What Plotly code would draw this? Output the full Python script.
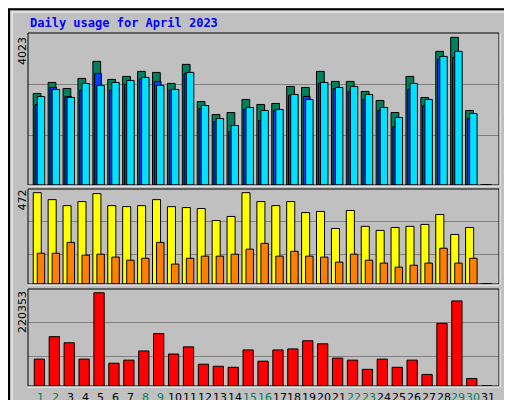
import plotly.graph_objects as go

days = list(range(1, 32))
hits = [2494, 2794, 2630, 2904, 3368, 2876, 2958, 3095, 3067, 2767, 3286, 2275, 1920, 1975, 2330,
        2194, 2221, 2685, 2658, 3095, 2822, 2822, 2549, 2303, 1975, 2958, 2385, 3641, 4023, 2030, 0]
files = [2194, 2658, 2412, 2585, 3040, 2585, 2740, 2885, 2822, 2585, 3040, 2084, 1729, 1456, 2057,
         1757, 2030, 2439, 2412, 2767, 2630, 2549, 2330, 2030, 1593, 2603, 2166, 3422, 3477, 1811, 0]
pages = [2412, 2603, 2385, 2767, 2712, 2794, 2849, 2931, 2712, 2603, 3067, 2166, 1811, 1620, 2112,
         2030, 2057, 2467, 2330, 2794, 2658, 2685, 2467, 2112, 1839, 2767, 2330, 3504, 3641, 1948, 0]
visits = [472, 436, 405, 426, 467, 405, 400, 405, 436, 400, 395, 390, 328, 349, 472,
          426, 405, 426, 369, 375, 287, 380, 298, 277, 292, 298, 308, 359, 256, 292, 0]
sites = [159, 159, 215, 149, 154, 139, 123, 133, 215, 103, 133, 144, 144, 154, 180,
         210, 144, 169, 144, 139, 113, 154, 123, 108, 87, 97, 108, 185, 108, 133, 0]
kbytes = [63500, 116600, 102100, 63500, 220353, 53900, 61100, 82800, 123800, 75600, 92500, 51500,
          46600, 44200, 85200, 58700, 85200, 87600, 106900, 99700, 65900, 61100, 39400, 63500,
          44200, 61100, 27300, 148000, 201000, 17700, 0]
weekend = [1, 2, 8, 9, 15, 16, 22, 23, 29, 30]

GREEN, BLUE, CYAN = "#00805c", "#0040ff", "#00e0ff"
YELLOW, ORANGE, RED = "#ffff00", "#ff8000", "#ff0000"
line = dict(color="black", width=1)

fig = go.Figure()
fig.add_trace(go.Bar(x=days, y=hits, offset=-0.52, width=0.52, marker=dict(color=GREEN, line=line), xaxis="x", yaxis="y"))
fig.add_trace(go.Bar(x=days, y=files, offset=-0.4, width=0.45, marker=dict(color=BLUE, line=line), xaxis="x", yaxis="y"))
fig.add_trace(go.Bar(x=days, y=pages, offset=-0.25, width=0.5, marker=dict(color=CYAN, line=line), xaxis="x", yaxis="y"))
fig.add_trace(go.Bar(x=days, y=visits, offset=-0.52, width=0.54, marker=dict(color=YELLOW, line=line), xaxis="x2", yaxis="y2"))
fig.add_trace(go.Bar(x=days, y=sites, offset=-0.25, width=0.5, marker=dict(color=ORANGE, line=line), xaxis="x2", yaxis="y2"))
fig.add_trace(go.Bar(x=days, y=kbytes, offset=-0.45, width=0.69, marker=dict(color=RED, line=line), xaxis="x3", yaxis="y3"))

xr = [0.13, 31.72]
xdom = [20 / 512, 491 / 512]
common_x = dict(range=xr, domain=xdom, showgrid=False, zeroline=False, fixedrange=True, showticklabels=False)
grid = dict(showgrid=True, gridcolor="#808080", gridwidth=1, showticklabels=False, zeroline=False, ticks="")

fig.update_layout(
    width=512, height=400, margin=dict(l=0, r=0, t=0, b=0),
    paper_bgcolor="#c0c0c0", plot_bgcolor="#c0c0c0",
    barmode="overlay", showlegend=False,
    font=dict(family="DejaVu Sans Mono", size=11, color="black"),
    xaxis=dict(**common_x, anchor="y"),
    xaxis2=dict(**common_x, anchor="y2"),
    xaxis3=dict(**common_x, anchor="y3"),
    yaxis=dict(**grid, domain=[1 - 177 / 400, 1 - 25 / 400], range=[0, 4141], tickvals=[1347, 2740]),
    yaxis2=dict(**grid, domain=[1 - 276 / 400, 1 - 181 / 400], range=[0, 491], tickvals=[154, 323]),
    yaxis3=dict(**grid, domain=[1 - 378 / 400, 1 - 281 / 400], range=[0, 229200], tickvals=[70750, 150350]),
)

# day labels under the bottom panel
for d in days:
    fig.add_annotation(text=str(d), xref="x3", yref="paper", x=d, y=1 - 389 / 400,
                       xanchor="center", yanchor="middle", showarrow=False,
                       font=dict(family="DejaVu Sans", size=11, color=GREEN if d in weekend else "black"))

# panel frames and outer border
for y0, y1 in [(25, 177), (181, 276), (281, 378)]:
    fig.add_shape(type="rect", xref="paper", yref="paper", x0=20 / 512, x1=491 / 512,
                  y0=1 - y1 / 400, y1=1 - y0 / 400, line=dict(color="black", width=1))
    fig.add_shape(type="line", xref="paper", yref="paper", x0=20 / 512, x1=491 / 512,
                  y0=1 - (y1 + 1) / 400, y1=1 - (y1 + 1) / 400, line=dict(color="white", width=1))
    fig.add_shape(type="line", xref="paper", yref="paper", x0=492 / 512, x1=492 / 512,
                  y0=1 - (y1 + 1) / 400, y1=1 - y0 / 400, line=dict(color="white", width=1))
fig.add_shape(type="rect", xref="paper", yref="paper", x0=0.002, x1=0.998, y0=0.003, y1=0.997,
              line=dict(color="black", width=2))
fig.add_shape(type="rect", xref="paper", yref="paper", x0=0.008, x1=0.992, y0=0.01, y1=0.99,
              line=dict(color="white", width=1))

fig.add_annotation(text="<b>Daily usage for April 2023</b>", xref="paper", yref="paper",
                   x=20 / 512, y=1 - 15 / 400, xanchor="left", yanchor="middle", showarrow=False,
                   font=dict(family="DejaVu Sans Mono", size=12, color="#0000ff"))
for label, ytop in [("4023", 27), ("472", 180), ("220353", 281)]:
    fig.add_annotation(text=label, xref="paper", yref="paper", x=14 / 512, y=1 - ytop / 400,
                       xanchor="center", yanchor="top", textangle=-90, showarrow=False,
                       font=dict(family="DejaVu Sans", size=11, color="black"))
right = [
    (f"<span style='color:{CYAN}'>Pages</span> / <span style='color:{BLUE}'>Files</span> / "
     f"<span style='color:{GREEN}'>Hits</span>", 101),
    (f"<span style='color:{ORANGE}'>Sites</span> / <span style='color:{YELLOW}'>Visits</span>", 228),
    (f"<span style='color:{RED}'>KBytes</span>", 330),
]
for text, yc in right:
    fig.add_annotation(text=text, xref="paper", yref="paper", x=501 / 512, y=1 - yc / 400,
                       xanchor="center", yanchor="middle", textangle=-90, showarrow=False,
                       font=dict(family="DejaVu Sans Mono", size=11, color="black"))

fig.write_html("out.html")
